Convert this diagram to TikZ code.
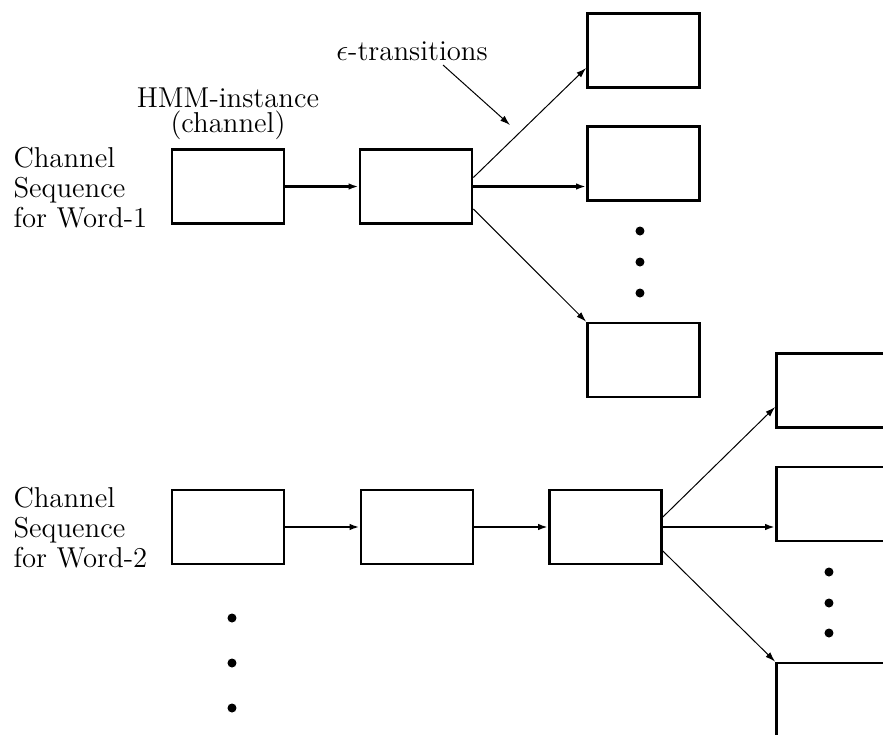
\documentclass[tikz,border=0pt]{standalone}
\usepackage{amsmath}
\usepackage{tikz}
\usetikzlibrary{arrows.meta}
\tikzset{
  % --- HMM instances (channels) ----------------------------------------------
  hmm/.style={rectangle,draw,line width=1.1pt,minimum width=44.8pt,
              minimum height=29.6pt,inner sep=0pt},
  % --- transitions -----------------------------------------------------------
  seq/.style={-{Latex[length=4pt,width=2.6pt]},line width=1.1pt},
  seqthin/.style={seq,line width=0.8pt},
  epsarr/.style={-{Latex[length=4pt,width=2.6pt]},line width=0.4pt},
  % --- labels and ellipsis dots ----------------------------------------------
  lab/.style={font=\fontsize{11.5}{12}\selectfont,inner sep=0pt,align=left},
  toplab/.style={font=\fontsize{11.5}{10}\selectfont,inner sep=0pt,align=center},
  dot/.style={circle,fill,inner sep=0pt,minimum size=3.6pt},
}

\begin{document}
\begin{tikzpicture}[x=0.4pt, y=-0.4pt]
  \clip (0,0) rectangle (883,735);

  % word 1
  \node[lab,anchor=base west] (w1) at (13,227) {Channel\\Sequence\\for Word-1};
  \node[hmm] (a1) at (228,186.5) {};
  \node[hmm] (b1) at (416,186.5) {};
  \node[hmm] (r11) at (643.5,50.5)  {};
  \node[hmm] (r12) at (643.5,163.5) {};
  \node[hmm] (r13) at (643.5,360)   {};
  \node[toplab,anchor=base] (inst) at (228,132) {HMM-instance\\(channel)};
  \draw[seq] (a1) -- (b1);
  \draw[epsarr] ([yshift=3.6pt]b1.east) -- ([yshift=-7pt]r11.west);
  \draw[seq] (b1.east) -- (r12.west |- b1.east);
  \draw[epsarr] ([yshift=-9pt]b1.east) -- (r13.north west);
  \foreach \y in {231,262,293} \node[dot] at (640,\y) {};

  \node[lab,anchor=base] (eps) at (412,60) {$\epsilon$-transitions};
  \coordinate (epstip) at (510,125);
  \draw[epsarr] ([xshift=12.4pt,yshift=-2pt]eps.base) -- (epstip);

  % word 2
  \node[lab,anchor=base west] (w2) at (13,567) {Channel\\Sequence\\for Word-2};
  \node[hmm] (a2) at (228,527) {};
  \node[hmm] (b2) at (417,527) {};
  \node[hmm] (c2) at (605.5,527) {};
  \node[hmm] (r21) at (832.5,390.5) {};
  \node[hmm] (r22) at (832.5,504)   {};
  \node[hmm] (r23) at (832.5,700)   {};
  \draw[seqthin] (a2) -- (b2);
  \draw[seqthin] (b2) -- (c2);
  \draw[epsarr] ([yshift=4pt]c2.east) -- ([yshift=-6.6pt]r21.west);
  \draw[seqthin] (c2.east) -- (r22.west |- c2.east);
  \draw[epsarr] ([yshift=-9.6pt]c2.east) -- (r23.north west);
  \foreach \y in {572,603,633} \node[dot] at (829,\y) {};
  \foreach \y in {618,663,708} \node[dot] at (232,\y) {};
\end{tikzpicture}
\end{document}
